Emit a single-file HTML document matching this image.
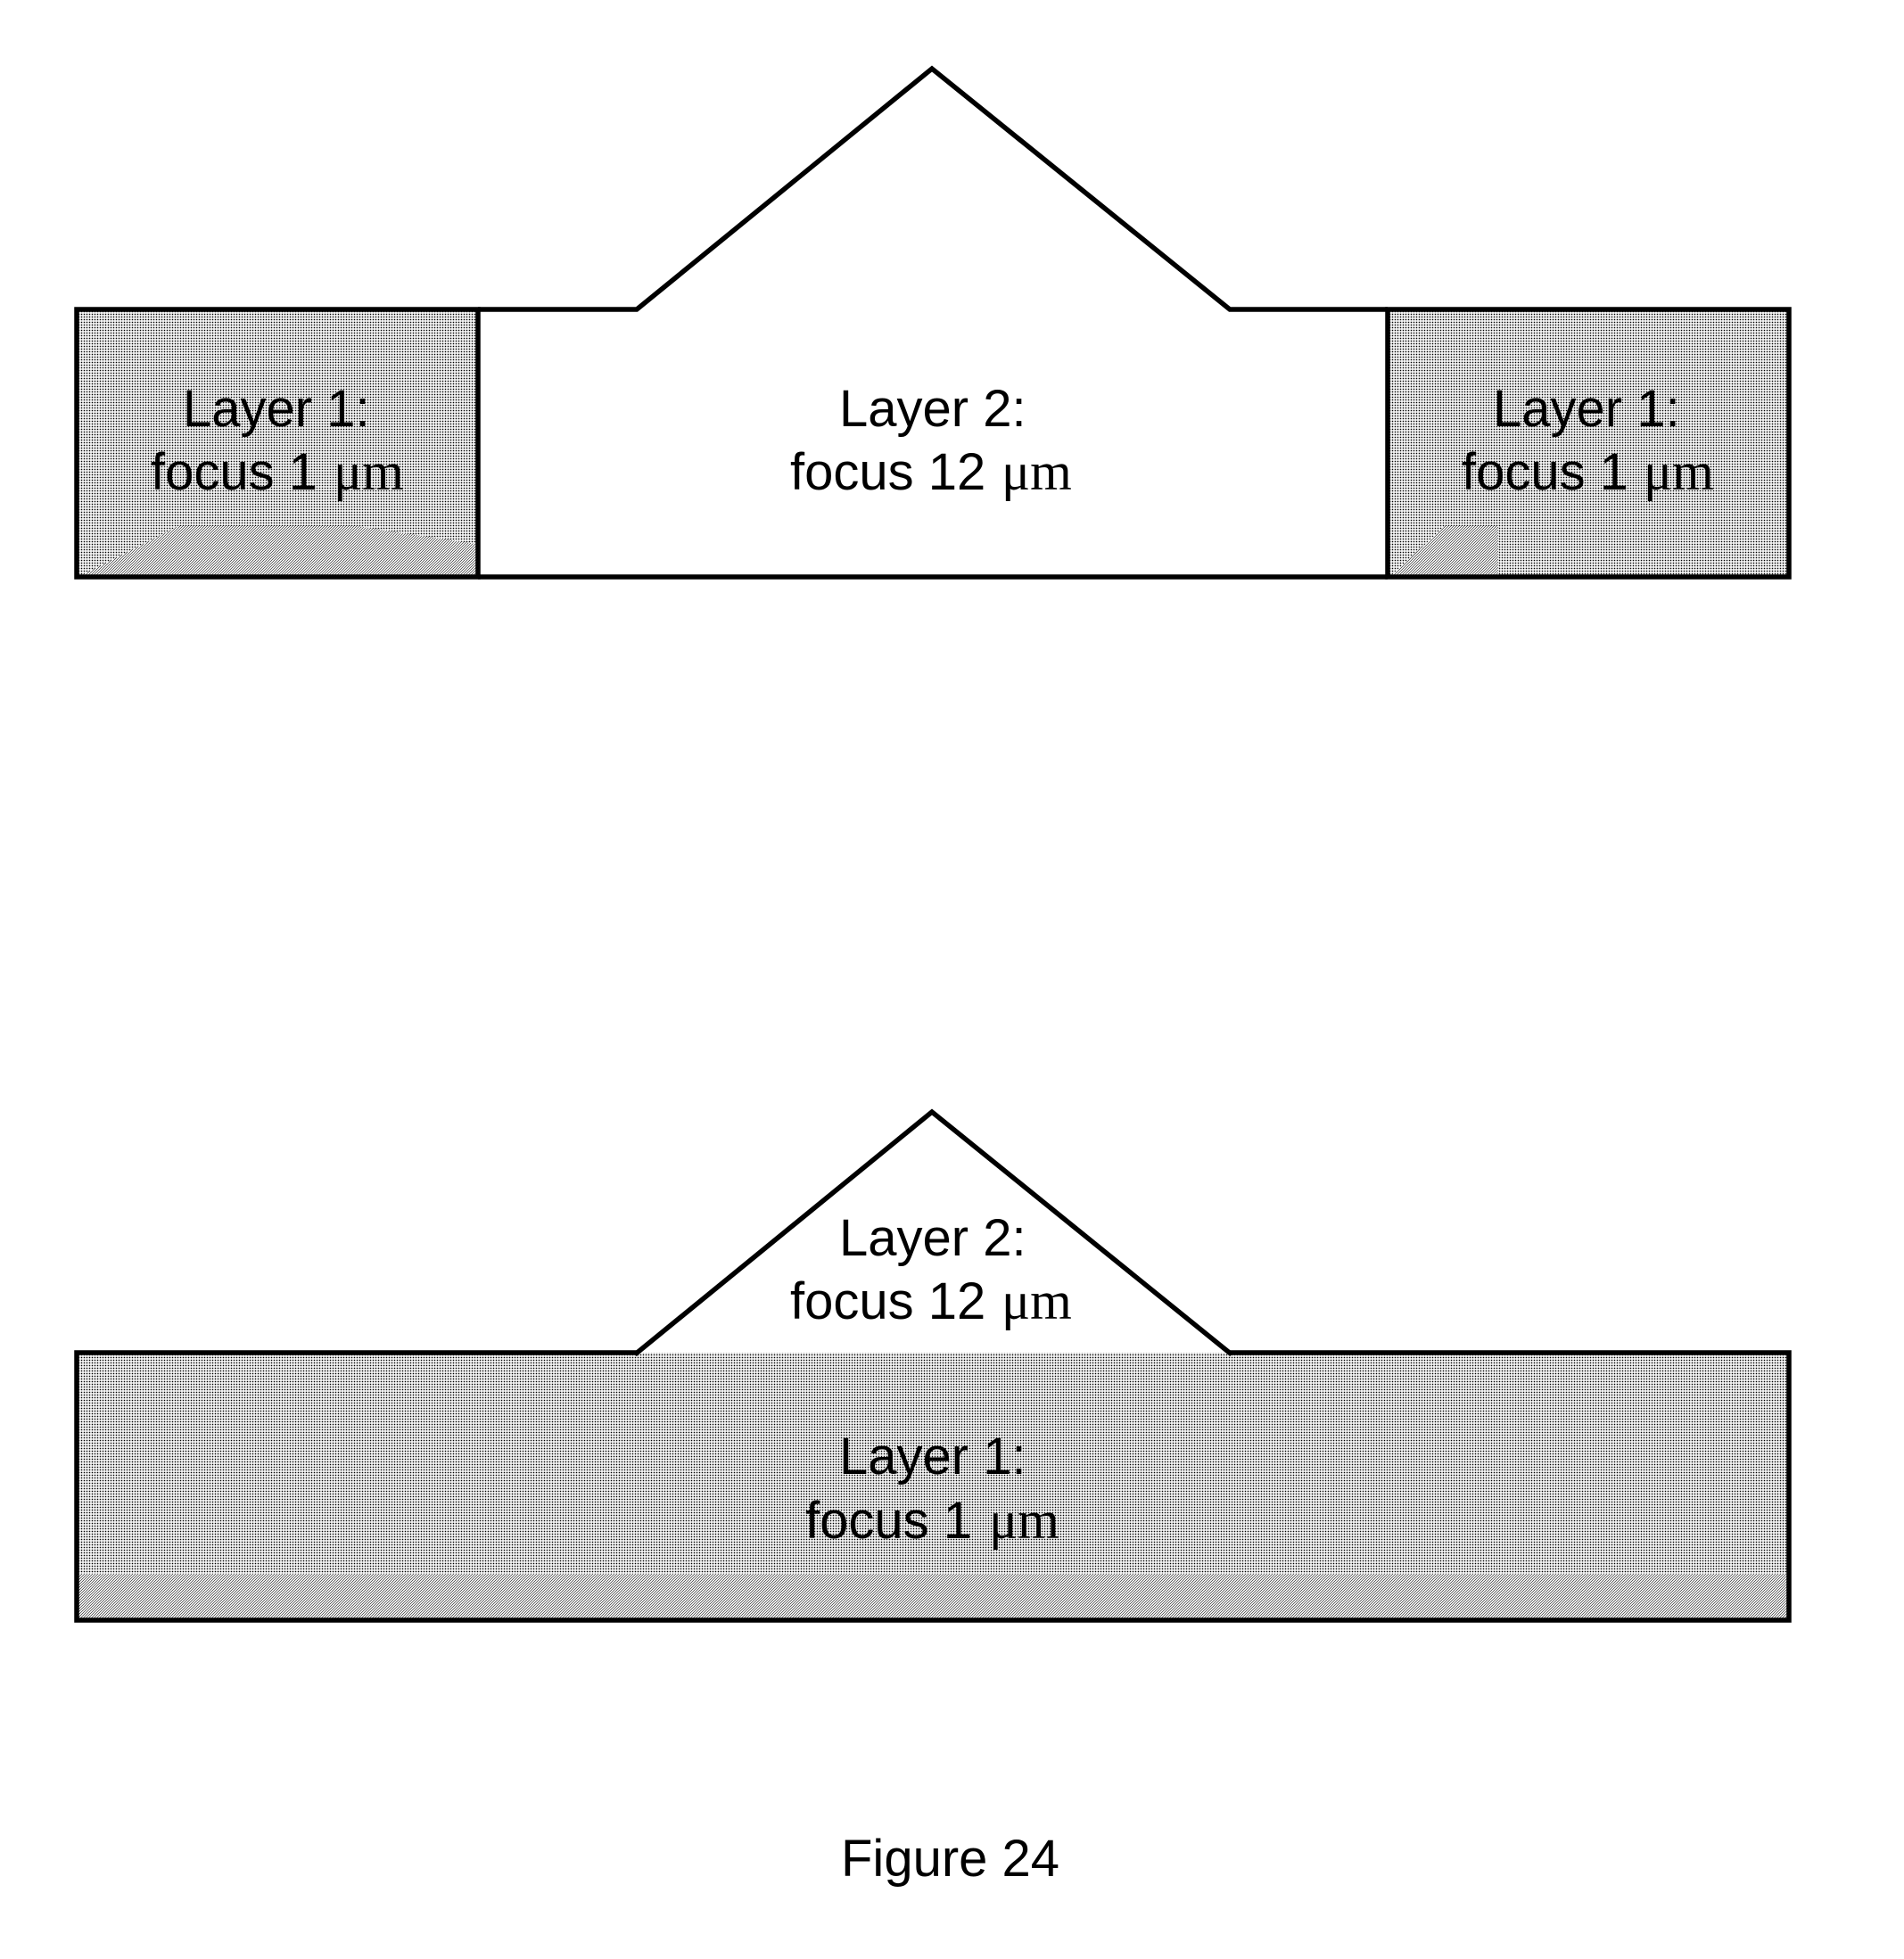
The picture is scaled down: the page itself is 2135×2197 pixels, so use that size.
<!DOCTYPE html>
<html>
<head>
<meta charset="utf-8">
<style>
html,body{margin:0;padding:0;background:#fff;width:2135px;height:2197px;overflow:hidden}
svg{display:block}
text{font-family:"Liberation Sans",sans-serif;font-size:58px;fill:#000}
text.s{font-family:"Liberation Serif",serif;font-size:60px}
</style>
</head>
<body>
<svg width="2135" height="2197" viewBox="0 0 2135 2197" xmlns="http://www.w3.org/2000/svg">
<defs>
<pattern id="dots" width="3" height="3" patternUnits="userSpaceOnUse">
<rect width="3" height="3" fill="#fff"/>
<rect x="0.75" y="0.75" width="1.5" height="1.5" fill="#000"/>
</pattern>
<pattern id="hatch" width="3" height="3" patternUnits="userSpaceOnUse">
<rect width="3" height="3" fill="#fff"/>
<path d="M-1 1L1 -1M0 3L3 0M2 4L4 2" stroke="#000" stroke-width="0.58"/>
</pattern>
</defs>

<!-- Upper diagram -->
<rect x="86" y="347" width="450" height="300" fill="url(#dots)"/>
<rect x="1556" y="347" width="450" height="300" fill="url(#dots)"/>
<polygon points="88,647 534,647 534,610 400,590 200,590" fill="url(#hatch)"/>
<polygon points="1558,647 1680,647 1680,590 1620,590" fill="url(#hatch)"/>
<g fill="none" stroke="#000" stroke-width="5.5" stroke-linejoin="miter">
<rect x="86" y="347" width="450" height="300"/>
<rect x="1556" y="347" width="450" height="300"/>
<polyline points="536,347 714,347 1045,77 1379,347 1556,347"/>
<line x1="536" y1="647" x2="1556" y2="647"/>
</g>

<text x="205" y="478">Layer 1:</text>
<text x="169" y="549">focus 1</text>
<text class="s" x="374" y="549">&#956;m</text>

<text x="941" y="478">Layer 2:</text>
<text x="886" y="549">focus 12</text>
<text class="s" x="1123" y="549">&#956;m</text>

<text x="1674" y="478">Layer 1:</text>
<text x="1639" y="549">focus 1</text>
<text class="s" x="1843" y="549">&#956;m</text>

<!-- Lower diagram -->
<rect x="86" y="1517" width="1920" height="300" fill="url(#dots)"/>
<rect x="88" y="1765" width="1916" height="50" fill="url(#hatch)"/>
<g fill="none" stroke="#000" stroke-width="5.5" stroke-linejoin="miter">
<polyline points="714,1517 86,1517 86,1817 2006,1817 2006,1517 1379,1517"/>
<polyline points="712,1519 1045,1247 1381,1519"/>
</g>

<text x="941" y="1408">Layer 2:</text>
<text x="886" y="1479">focus 12</text>
<text class="s" x="1123" y="1479">&#956;m</text>

<text x="941" y="1653">Layer 1:</text>
<text x="903" y="1725">focus 1</text>
<text class="s" x="1109" y="1725">&#956;m</text>

<text x="943" y="2104">Figure 24</text>
</svg>
</body>
</html>
